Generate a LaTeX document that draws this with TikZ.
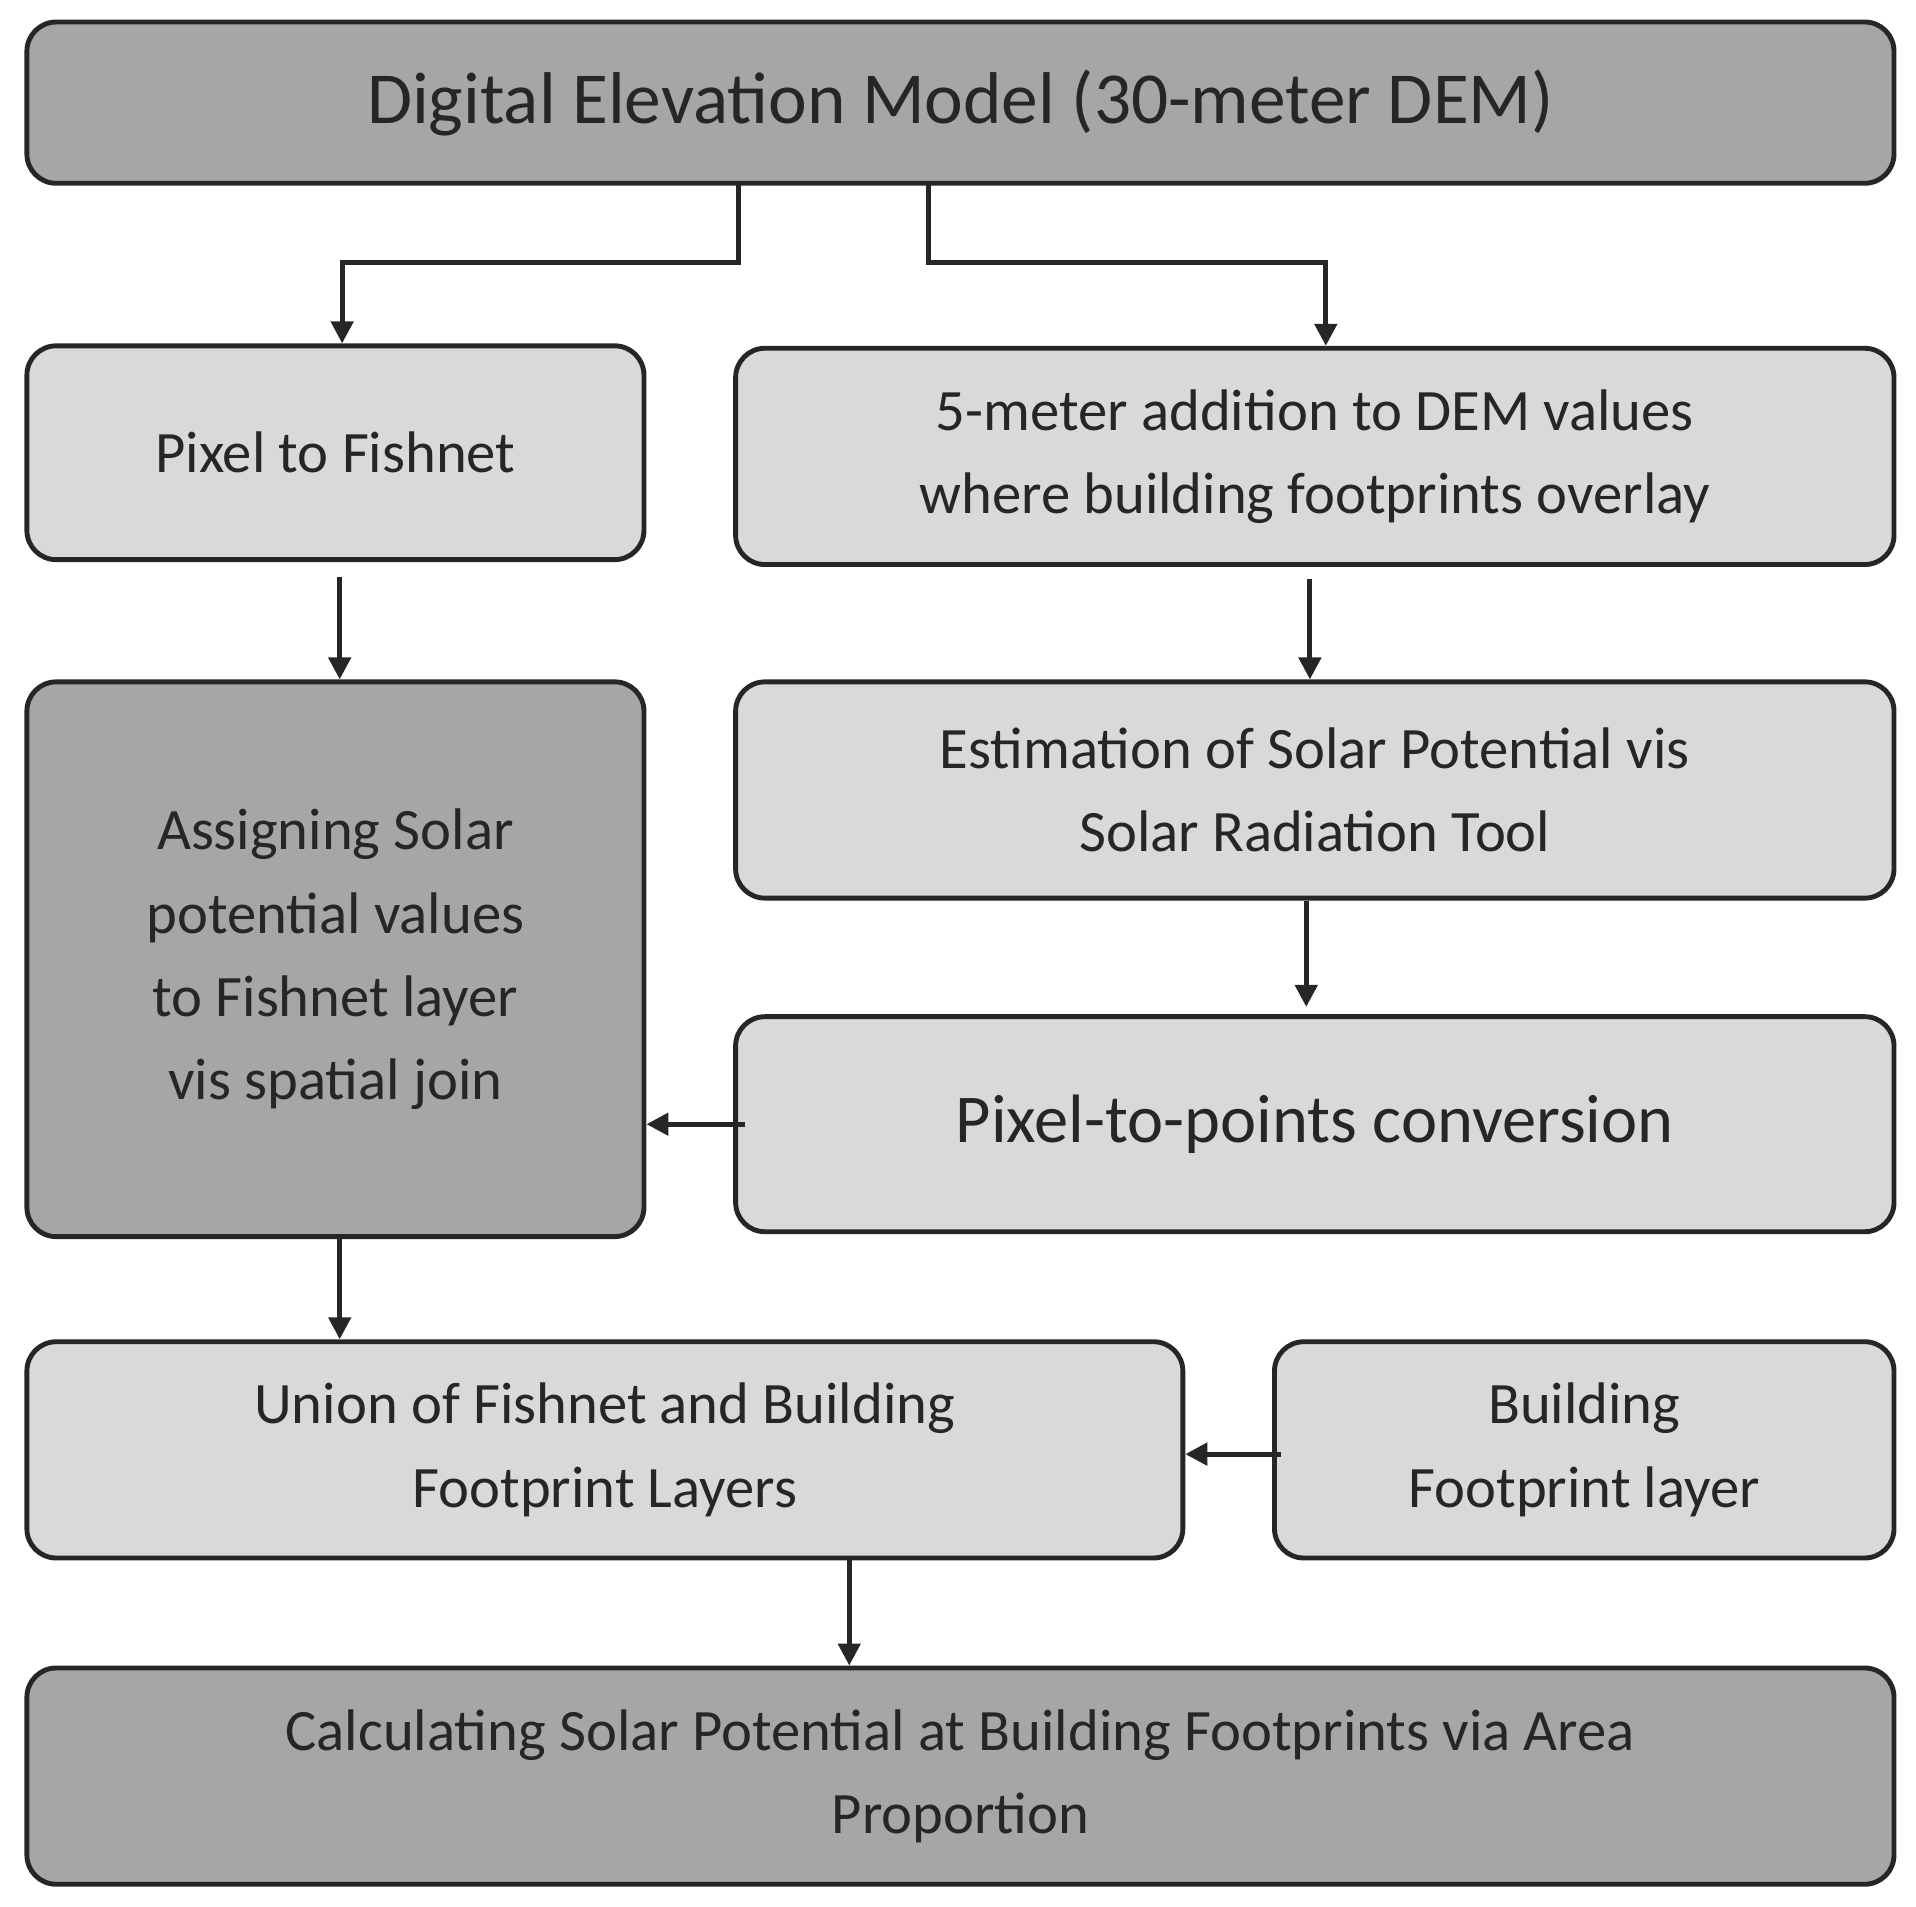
\documentclass[tikz,border=0pt]{standalone}
\usepackage{fontspec}
\setmainfont{Carlito}
\usetikzlibrary{arrows.meta}
\definecolor{dk}{HTML}{A6A6A6}
\definecolor{lt}{HTML}{D9D9D9}
\begin{document}
\begin{tikzpicture}[x=0.5pt,y=-0.5pt,
 box/.style={draw=black!85,line width=2pt,rounded corners=12pt,align=center,inner sep=0pt,font=\fontsize{24}{34}\selectfont,text=black!85},
 arr/.style={draw=black!85,line width=2pt,-{Triangle[length=9pt,width=9pt]}}]
\useasboundingbox (0,0) rectangle (1568,1560);
\newcommand\bx[7]{\node[box,fill=#6,minimum width=#4*0.5pt-#2*0.5pt,minimum height=#5*0.5pt-#3*0.5pt] (#1) at ({(#2+#4)/2},{(#3+#5)/2}) {#7};}
\bx{dem}{22}{18}{1550}{150}{dk}{\fontsize{30}{34}\selectfont Digital Elevation Model (30-meter DEM)}
\bx{pf}{22}{283}{527}{458}{lt}{Pixel to Fishnet}
\bx{fm}{602}{285}{1550}{462}{lt}{5-meter addition to DEM values\\where building footprints overlay}
\bx{as}{22}{558}{527}{1012}{dk}{Assigning Solar\\potential values\\to Fishnet layer\\vis spatial join}
\bx{es}{602}{558}{1550}{735}{lt}{Estimation of Solar Potential vis\\Solar Radiation Tool}
\bx{pp}{602}{832}{1550}{1008}{lt}{\fontsize{28}{34}\selectfont Pixel-to-points conversion}
\bx{un}{22}{1098}{968}{1275}{lt}{Union of Fishnet and Building\\Footprint Layers}
\bx{bf}{1043}{1098}{1550}{1275}{lt}{Building\\Footprint layer}
\bx{ca}{22}{1365}{1550}{1542}{dk}{Calculating Solar Potential at Building Footprints via Area\\Proportion}
\coordinate (d1) at (604,150);
\coordinate (d2) at (760,150);
\draw[arr] (d1) -- (604,215) -| (pf.north-|280,0);
\draw[arr] (d2) -- (760,215) -| (fm.north-|1085,0);
\draw[arr] (pf.south-|278,0) ++(0,12) -- (as.north-|278,0);
\draw[arr] (fm.south-|1072,0) ++(0,10) -- (es.north-|1072,0);
\draw[arr] (es.south-|1069,0) -- ([yshift=3pt]pp.north-|1069,0);
\draw[arr] (pp.west|-0,920) ++(10,0) -- (as.east|-0,920);
\draw[arr] (as.south-|278,0) -- (un.north-|278,0);
\draw[arr] (bf.west|-0,1190) ++(7,0) -- (un.east|-0,1190);
\draw[arr] (un.south-|695,0) -- (ca.north-|695,0);
\end{tikzpicture}
\end{document}
